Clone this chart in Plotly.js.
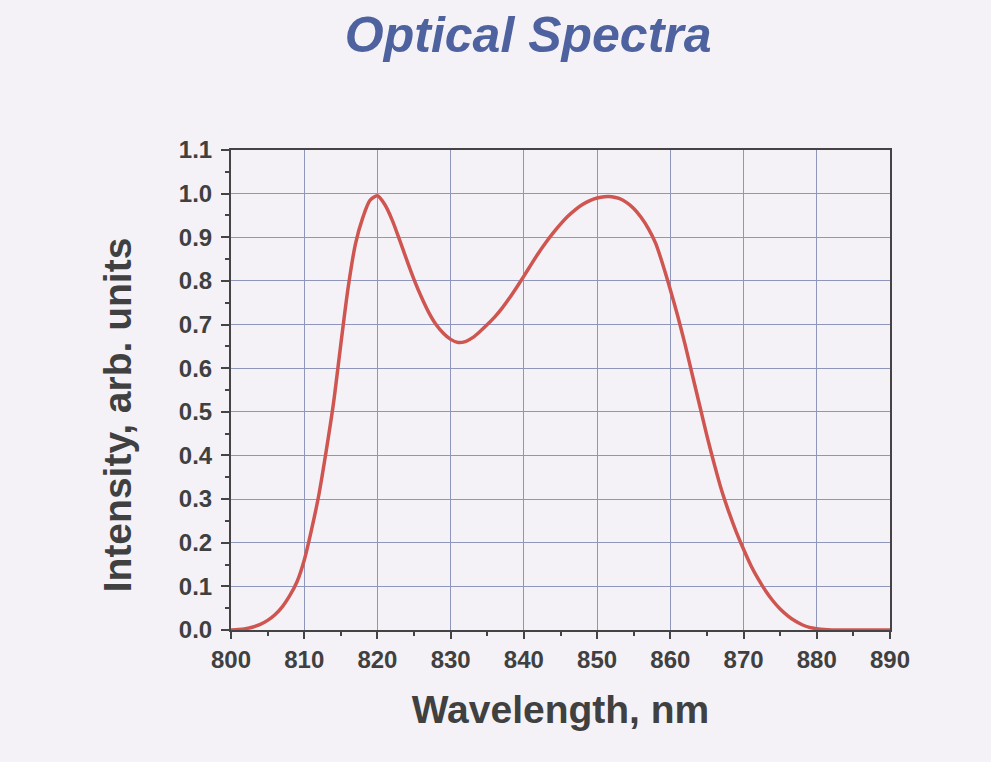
<!DOCTYPE html>
<html>
<head>
<meta charset="utf-8">
<script src="https://cdn.plot.ly/plotly-3.0.1.min.js"></script>
<style>
  html, body { margin: 0; padding: 0; background: #f4f2f7; }
  #chart { width: 991px; height: 762px; }
</style>
</head>
<body>
<div id="chart"></div>
<script>
// Emission spectrum: wavelength (nm) and normalised intensity
const wavelength = [
  800, 801, 802, 803, 804, 805, 806, 807, 808, 809,
  810, 811, 812, 813, 814, 815, 816, 817, 818, 819,
  820, 821, 822, 823, 824, 825, 826, 827, 828, 829,
  830, 831, 832, 833, 834, 835, 836, 837, 838, 839,
  840, 841, 842, 843, 844, 845, 846, 847, 848, 849,
  850, 851, 852, 853, 854, 855, 856, 857, 858, 859,
  860, 861, 862, 863, 864, 865, 866, 867, 868, 869,
  870, 871, 872, 873, 874, 875, 876, 877, 878, 879,
  880, 881, 882, 884, 886, 888, 890
];
const intensity = [
  0.000, 0.001, 0.003, 0.007, 0.013, 0.022, 0.035, 0.053, 0.078, 0.110,
  0.160, 0.230, 0.310, 0.410, 0.520, 0.655, 0.785, 0.885, 0.945, 0.985,
  0.995, 0.975, 0.940, 0.895, 0.848, 0.803, 0.763, 0.728, 0.700, 0.680,
  0.666, 0.659, 0.661, 0.670, 0.684, 0.700, 0.717, 0.737, 0.760, 0.785,
  0.811, 0.838, 0.864, 0.888, 0.910, 0.930, 0.948, 0.963, 0.975, 0.984,
  0.990, 0.993, 0.993, 0.989, 0.980, 0.966, 0.946, 0.920, 0.886, 0.836,
  0.780, 0.720, 0.655, 0.585, 0.515, 0.445, 0.380, 0.320, 0.270, 0.225,
  0.185, 0.148, 0.117, 0.090, 0.067, 0.048, 0.033, 0.021, 0.012, 0.006,
  0.003, 0.001, 0.000, 0.000, 0.000, 0.000, 0.000
];

const xTicks = [800, 810, 820, 830, 840, 850, 860, 870, 880, 890];
const yTicks = [0.0, 0.1, 0.2, 0.3, 0.4, 0.5, 0.6, 0.7, 0.8, 0.9, 1.0, 1.1];

const fontFamily = 'Liberation Sans, Arial, sans-serif';
const labelFont = { family: fontFamily, size: 24, color: '#404040', weight: 'bold' };
const axisTitleFont = { family: fontFamily, size: 39, color: '#404040', weight: 'bold' };

const trace = {
  x: wavelength,
  y: intensity,
  type: 'scatter',
  mode: 'lines',
  line: { color: '#cf5550', width: 3.5, shape: 'spline', smoothing: 0.8 },
  hoverinfo: 'x+y'
};

const layout = {
  width: 991,
  height: 762,
  paper_bgcolor: '#f4f2f7',
  plot_bgcolor: '#f4f2f7',
  margin: { l: 231, r: 101, t: 150, b: 132 },
  showlegend: false,
  title: {
    text: 'Optical Spectra',
    x: 0.533,
    xanchor: 'center',
    y: 0.955,
    yanchor: 'middle',
    font: { family: fontFamily, size: 50, color: '#4d629e', weight: 'bold', style: 'italic' }
  },
  xaxis: {
    range: [800, 890],
    tickvals: xTicks,
    ticktext: xTicks.map(String),
    ticks: 'outside',
    ticklen: 7,
    tickwidth: 2,
    tickcolor: '#444',
    minor: { dtick: 5, tick0: 800, ticks: 'outside', ticklen: 4, tickwidth: 2, tickcolor: '#444', showgrid: false },
    showline: true,
    mirror: true,
    linecolor: '#444',
    linewidth: 2,
    showgrid: true,
    gridcolor: '#8f96bb',
    gridwidth: 1,
    zeroline: false,
    tickfont: labelFont,
    title: { text: 'Wavelength, nm', font: axisTitleFont, standoff: 24 }
  },
  yaxis: {
    range: [0, 1.1],
    tickvals: yTicks,
    ticktext: yTicks.map(v => v.toFixed(1)),
    ticks: 'outside',
    ticklen: 8,
    tickwidth: 2,
    tickcolor: '#444',
    ticklabelstandoff: 4,
    minor: { dtick: 0.05, tick0: 0, ticks: 'outside', ticklen: 4, tickwidth: 2, tickcolor: '#444', showgrid: false },
    showline: true,
    mirror: true,
    linecolor: '#444',
    linewidth: 2,
    showgrid: true,
    gridcolor: '#8f96bb',
    gridwidth: 1,
    zeroline: false,
    tickfont: labelFont
  },
  annotations: [{
    text: 'Intensity, arb. units',
    xref: 'paper', yref: 'paper',
    x: -0.171, y: 0.448,
    xanchor: 'center', yanchor: 'middle',
    textangle: -90,
    showarrow: false,
    font: axisTitleFont
  }]
};

Plotly.newPlot('chart', [trace], layout, { displayModeBar: false, staticPlot: true });
</script>
</body>
</html>
